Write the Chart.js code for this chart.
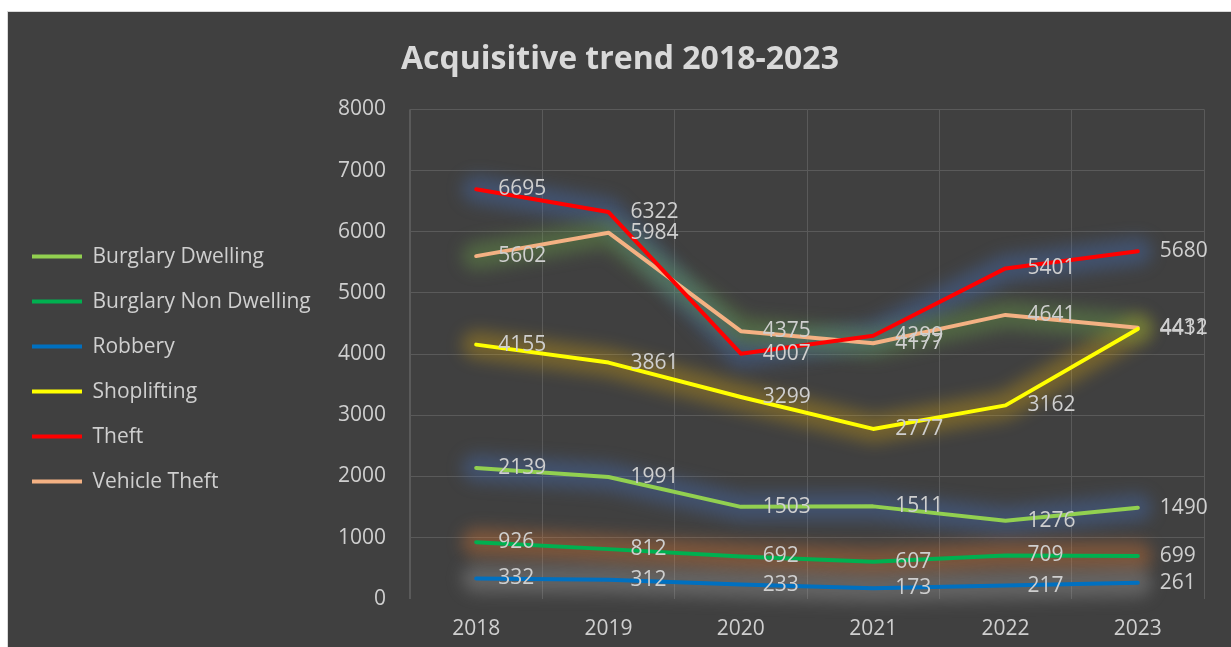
<!DOCTYPE html>
<html><head><meta charset="utf-8">
<script src="https://cdn.jsdelivr.net/npm/chart.js@4"></script>
<style>
html,body{margin:0;padding:0;background:#ffffff;overflow:hidden;}
#wrap{position:absolute;left:7px;top:11px;width:1224px;height:636px;background:#404040;border-left:1px solid #d9d9d9;border-top:1px solid #d9d9d9;overflow:hidden;}
#c{display:block;}
</style></head><body>
<div id="wrap"><canvas id="c" width="1224" height="636"></canvas></div>
<script>
const years = ['2018','2019','2020','2021','2022','2023'];
const burglaryDwelling    = [2139, 1991, 1503, 1511, 1276, 1490];
const burglaryNonDwelling = [926, 812, 692, 607, 709, 699];
const robbery             = [332, 312, 233, 173, 217, 261];
const shoplifting         = [4155, 3861, 3299, 2777, 3162, 4411];
const theft               = [6695, 6322, 4007, 4299, 5401, 5680];
const vehicleTheft        = [5602, 5984, 4375, 4177, 4641, 4432];
const seriesNames = ['Burglary Dwelling','Burglary Non Dwelling','Robbery','Shoplifting','Theft','Vehicle Theft'];
const seriesValues = [burglaryDwelling, burglaryNonDwelling, robbery, shoplifting, theft, vehicleTheft];
const lineColors = ['#92D050','#00B050','#0070C0','#FFFF00','#FF0000','#F4B183'];
const glowColors = ['#4472C4','#ED7D31','#A5A5A5','#FFC000','#4472C4','#70AD47'];
const yMin = 0, yMax = 8000, yStep = 1000;
const titleText = 'Acquisitive trend 2018-2023';

const FONT = "'Open Sans', sans-serif";
const TEXT = '#cfcfcf';
const GRID = '#5a5a5a';

const legendWidthPlugin = {
  id: 'legendWidth',
  beforeLayout(chart) {
    const lg = chart.legend;
    if (lg && !lg.__patched) {
      const orig = lg.update.bind(lg);
      lg.update = (mw, mh, margins) => orig(Math.max(mw, 420), mh, margins);
      lg.__patched = true;
    }
  }
};

const glowPlugin = {
  id: 'glow',
  beforeDatasetsDraw(chart) {
    const ctx = chart.ctx;
    chart.data.datasets.forEach((ds, i) => {
      const meta = chart.getDatasetMeta(i);
      if (!meta.data.length) return;
      ctx.save();
      ctx.filter = 'blur(8px)';
      ctx.globalAlpha = i === 3 ? 0.28 : 0.35;
      ctx.strokeStyle = glowColors[i];
      ctx.lineWidth = 28;
      ctx.lineJoin = 'round';
      ctx.lineCap = 'round';
      ctx.beginPath();
      meta.data.forEach((p, j) => { if (j === 0) ctx.moveTo(p.x, p.y); else ctx.lineTo(p.x, p.y); });
      ctx.stroke();
      ctx.restore();
    });
  }
};

const labelPlugin = {
  id: 'dlabels',
  afterDatasetsDraw(chart) {
    const ctx = chart.ctx;
    ctx.save();
    ctx.font = "21px " + FONT;
    ctx.fillStyle = TEXT;
    ctx.textAlign = 'left';
    ctx.textBaseline = 'middle';
    chart.data.datasets.forEach((ds, i) => {
      const meta = chart.getDatasetMeta(i);
      meta.data.forEach((p, j) => {
        ctx.fillText(String(ds.data[j]), p.x + 22, p.y);
      });
    });
    ctx.restore();
  }
};

new Chart(document.getElementById('c'), {
  type: 'line',
  data: {
    labels: years,
    datasets: seriesNames.map((name, i) => ({
      label: name,
      data: seriesValues[i],
      borderColor: lineColors[i],
      backgroundColor: lineColors[i],
      borderWidth: 4,
      borderCapStyle: 'round',
      borderJoinStyle: 'round',
      pointRadius: 0,
      tension: 0,
      fill: false,
      yAxisID: 'y'
    }))
  },
  options: {
    responsive: false,
    animation: false,
    layout: { padding: { left: 0, right: 0, top: 0, bottom: -12 } },
    plugins: {
      tooltip: { enabled: false },
      title: {
        display: true,
        text: titleText,
        color: '#d9d9d9',
        font: { family: FONT, size: 32, weight: 'bold' },
        padding: { top: 29, bottom: 30 }
      },
      legend: {
        position: 'left',
        fullSize: false,
        title: { display: true, text: ' ', color: 'rgba(0,0,0,0)', font: { size: 10 }, padding: { top: 18, bottom: 0 } },
        labels: {
          color: TEXT,
          font: { family: FONT, size: 21 },
          boxWidth: 50,
          boxHeight: 4,
          padding: 24,
          generateLabels(chart) {
            return chart.data.datasets.map((ds, i) => ({
              text: ds.label,
              fillStyle: lineColors[i],
              strokeStyle: lineColors[i],
              lineWidth: 0,
              fontColor: TEXT,
              hidden: false,
              datasetIndex: i
            }));
          }
        }
      }
    },
    scales: {
      x: {
        offset: true,
        grid: { offset: true, color: GRID, lineWidth: 1, drawTicks: false },
        border: { display: false },
        ticks: { color: TEXT, font: { family: FONT, size: 21 }, padding: 18, maxRotation: 0 }
      },
      y: {
        position: 'left',
        min: yMin,
        max: yMax,
        grid: {
          color: c => (c.tick && c.tick.value === 0) ? 'rgba(0,0,0,0)' : GRID,
          lineWidth: 1,
          drawTicks: false
        },
        border: { display: true, color: GRID },
        ticks: { stepSize: yStep, color: TEXT, font: { family: FONT, size: 21 }, padding: 24, callback: v => String(v) },
        afterFit(scale) {
          const lw = scale.chart.legend ? scale.chart.legend.width : 0;
          scale.width = Math.max(60, 402 - lw);
        }
      },
      yRight: {
        position: 'right',
        min: yMin,
        max: yMax,
        grid: { display: false, drawTicks: false },
        border: { display: false },
        ticks: { display: false },
        afterFit(scale) { scale.width = 28; }
      }
    }
  },
  plugins: [legendWidthPlugin, glowPlugin, labelPlugin]
});
</script>
</body></html>
